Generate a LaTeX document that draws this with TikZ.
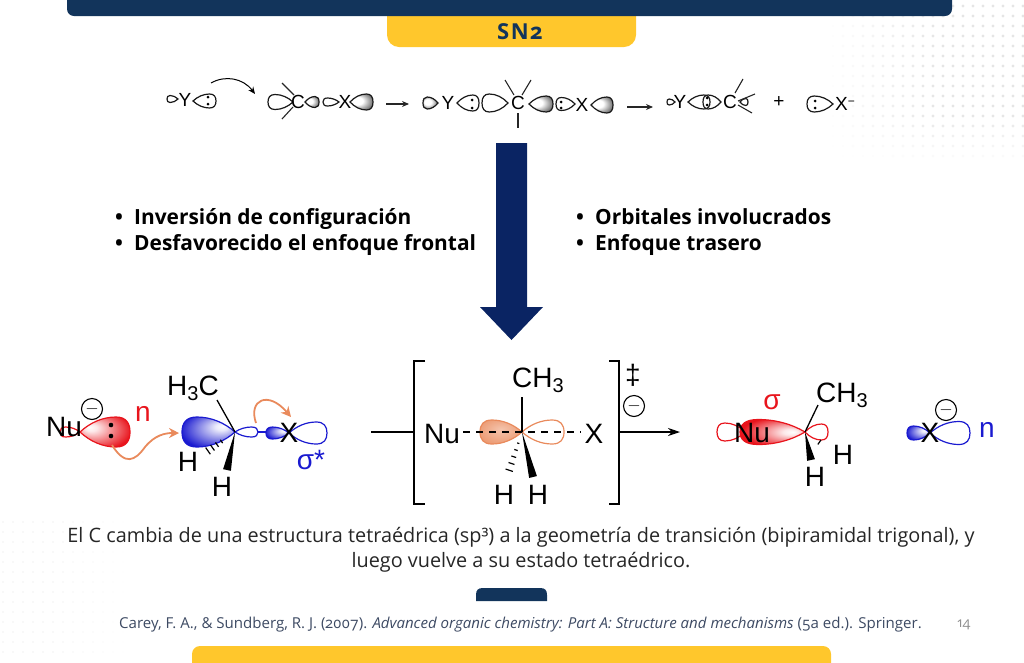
\documentclass[tikz,border=0pt]{standalone}
\usepackage{fontspec}
\setmainfont{Open Sans}[Numbers=OldStyle]
\newfontfamily\molfont{Liberation Sans}
\usetikzlibrary{arrows.meta, calc}

\definecolor{navybar}{HTML}{12345B}
\definecolor{navyarrow}{HTML}{0A2463}
\definecolor{yellowbar}{HTML}{FFC72C}
\definecolor{orbred}{HTML}{E8141C}
\definecolor{orbblue}{HTML}{1A1AD0}
\definecolor{orborange}{HTML}{E98A5C}
\definecolor{citegray}{HTML}{3D4A63}

\pgfdeclareradialshading{lobered}{\pgfpoint{-16bp}{8bp}}{color(0bp)=(white); color(6bp)=(white!90!orbred); color(32bp)=(orbred); color(50bp)=(orbred)}
\pgfdeclareradialshading{loberedb}{\pgfpoint{16bp}{0bp}}{color(0bp)=(white); color(6bp)=(white!90!orbred); color(30bp)=(orbred); color(50bp)=(orbred)}
\pgfdeclareradialshading{lobeblue}{\pgfpoint{14bp}{10bp}}{color(0bp)=(white); color(6bp)=(white!90!orbblue); color(32bp)=(orbblue); color(50bp)=(orbblue)}
\pgfdeclareradialshading{lobeorange}{\pgfpoint{0bp}{6bp}}{color(0bp)=(orborange!50); color(40bp)=(orborange); color(50bp)=(orborange)}
\pgfdeclareradialshading{lobegray}{\pgfpoint{-12bp}{5bp}}{color(0bp)=(white); color(12bp)=(white); color(28bp)=(black!50); color(42bp)=(black); color(50bp)=(black)}

\tikzset{
  toplabel/.style={font=\molfont\fontsize{19}{19}\selectfont, inner sep=0pt},
  mollabel/.style={font=\molfont\fontsize{28}{28}\selectfont, inner sep=0pt},
  bond/.style={line width=1.1pt, black!85},
  molbond/.style={line width=1.3pt},
  toplobe/.style={line width=1.2pt, black!90},
  charge/.style={circle, draw, line width=1.1pt, inner sep=0pt, minimum size=21pt, font=\fontsize{18}{18}\selectfont},
  curved/.style={line width=1.8pt, orborange, -{Stealth[length=10pt,width=10pt]}},
}

% tip, signed length, half width, options
\newcommand{\lobe}[4]{
  \draw[shift={(#1)}, xscale=#2, yscale=#3, #4]
    (0,0) .. controls (.2,.62) and (.45,1) .. (.72,1)
    .. controls (.92,1) and (1,.6) .. (1,0)
    .. controls (1,-.6) and (.92,-1) .. (.72,-1)
    .. controls (.45,-1) and (.2,-.62) .. (0,0) -- cycle;
}
\newcommand{\wedgebond}[2]{
  \fill (#1) -- ($(#2)!4pt!90:(#1)$) -- ($(#2)!4pt!-90:(#1)$) -- cycle;
}
\newcommand{\hashbond}[3]{
  \foreach \t [evaluate=\t as \w using 4.5*\t] in {#3}
    \draw[line width=1.2pt] ($(#1)!\t!(#2)!\w pt!90:(#2)$) -- ($(#1)!\t!(#2)!\w pt!-90:(#2)$);
}
\newcommand{\twodots}[4][1.5pt]{
  \fill (#2,#3) circle[radius=#1] (#2,#4) circle[radius=#1];
}
\newcommand{\subn}[1]{\raisebox{-5pt}{\fontsize{20}{20}\selectfont #1}}
\newcommand{\bul}{\hbox to 19pt{\textbullet\hfil}}

\begin{document}
\begin{tikzpicture}[x=1pt, y=-1pt]
  \useasboundingbox (0,0) rectangle (1024,662);

  % dots of the background
  \foreach \x in {823,833,...,1023}
    \foreach \y in {6,16,...,156}
      {\pgfmathsetmacro{\v}{max(0,10*min(1,(\x-825)/110)*min(1,(165-\y)/50))}
       \fill[black!\v] (\x,\y) circle[radius=1.6pt];}
  \foreach \x in {3,13,...,133}
    \foreach \y in {522,532,...,652}
      {\pgfmathsetmacro{\v}{max(0,4*min(1,(135-\x)/90))}
       \fill[black!\v] (\x,\y) circle[radius=1.2pt];}

  % bars
  \fill[yellowbar, rounded corners=12pt] (387,-20) rectangle (636,47);
  \fill[navybar, rounded corners=7pt] (67,-20) rectangle (952,16);
  \node[font=\bfseries\fontsize{22}{22}\selectfont, navybar] (title) at (520,31.5) {S\kern1.5pt N\kern1.5pt 2};
  \fill[navybar] (476,601) -- (476,595) .. controls (476,590) and (478,588) .. (483,588) -- (540,588) .. controls (545,588) and (547,590) .. (547,595) -- (547,601) -- cycle;
  \fill[yellowbar, rounded corners=8pt] (192,680) rectangle (831,646);

  % top row
  \lobe{178,99}{-11}{3.5}{toplobe}
  \node[toplabel] (ya) at (185,100) {Y};
  \lobe{193,101}{23}{7}{toplobe}
  \twodots{208}{97}{104}
  \coordinate (sa) at (211,83);
  \coordinate (ea) at (255,94);
  \draw[line width=1pt, -{Stealth[length=7pt,width=6pt]}] (sa) .. controls (225,75) and (243,78) .. (ea);

  \coordinate (ca) at (298,102);
  \lobe{293,102}{-25}{7.5}{toplobe}
  \lobe{305,102}{14}{5.5}{toplobe, shading=lobegray}
  \lobe{339,102}{-16}{4}{toplobe}
  \lobe{350,102}{23}{8}{toplobe, shading=lobegray}
  \node[toplabel] (ct) at (ca) {C};
  \node[toplabel] (xa) at (345,102) {X};
  \draw[bond] (282,83) -- (294,95);
  \draw[bond] (293,107) -- (282,119);

  \coordinate (ab) at (386,104);
  \coordinate (bb) at (409,104);
  \draw[bond, -{Stealth[length=7pt,width=6pt]}] (ab) -- (bb);

  \lobe{438,103}{-15}{6}{toplobe, shading=lobegray}
  \node[toplabel] (yb) at (448,103) {Y};
  \lobe{457,103}{22}{8}{toplobe}
  \twodots{472}{100}{108}
  \lobe{508,103}{-26}{9}{toplobe}
  \node[toplabel] (cb) at (518,103) {C};
  \draw[bond] (505,80) -- (514,95);
  \draw[bond] (531,80) -- (522,95);
  \draw[bond] (518,113) -- (518,128);
  \lobe{529,104}{24}{8}{toplobe, shading=lobegray}
  \lobe{575,104}{-19}{6.5}{toplobe}
  \twodots{561}{102}{108}
  \node[toplabel] (xb) at (582,105) {X};
  \lobe{591,105}{22}{8}{toplobe, shading=lobegray}

  \coordinate (ac) at (627,107);
  \coordinate (bc) at (653,107);
  \draw[bond, -{Stealth[length=7pt,width=6pt]}] (ac) -- (bc);

  \lobe{675,102}{-8}{3}{toplobe}
  \node[toplabel] (yc) at (680,102) {Y};
  \lobe{688,102}{22}{7}{toplobe}
  \lobe{721,102}{-18}{7}{toplobe}
  \twodots{707}{98}{105}
  \node[toplabel] (cc) at (730,102) {C};
  \lobe{740,102}{8}{3.5}{toplobe}
  \draw[bond] (743,79) -- (735,93);
  \draw[bond] (755,94) -- (738,101);
  \draw[bond] (752,113) -- (738,105);
  \node[toplabel] (plus) at (779,102) {+};
  \lobe{833,104}{-26}{8}{toplobe}
  \twodots{815}{101}{108}
  \node[toplabel, anchor=west] (xc) at (835,104) {X\raisebox{5pt}{\fontsize{12}{12}\selectfont −}};

  % big arrow
  \fill[navyarrow] (496,143) -- (527,143) -- (527,307) -- (543,307) -- (511.5,340) -- (480,307) -- (496,307) -- cycle;

  % bullets
  \node[anchor=west, align=left, inner sep=0pt, font=\bfseries\fontsize{20.9}{26}\selectfont, text=black] (bulleta) at (115,232)
    {\bul Inversión de configuración\\ \bul Desfavorecido el enfoque frontal};
  \node[anchor=west, align=left, inner sep=0pt, font=\bfseries\fontsize{20.9}{26}\selectfont, text=black] (bulletb) at (576,232)
    {\bul Orbitales involucrados\\ \bul Enfoque trasero};

  % left molecule
  \coordinate (cl) at (235,432);
  \lobe{80,432}{-20}{5}{line width=1.2pt, orbred}
  \lobe{80,432}{50}{15}{line width=1.2pt, orbred, shading=lobered}
  \twodots[2.3pt]{111}{425}{436}
  \node[mollabel] (nua) at (64,427) {Nu};
  \node[charge] (chargea) at (92,409) {$-$};
  \node[mollabel, text=orbred] (na) at (143,414) {n};
  \lobe{235,432}{-53}{15}{line width=1.2pt, orbblue, shading=lobeblue}
  \lobe{235,432}{23}{5}{line width=1.2pt, orbblue}
  \lobe{289,433}{-23}{6}{line width=1.2pt, orbblue, shading=lobeblue}
  \lobe{289,433}{38}{11}{line width=1.2pt, orbblue}
  \draw[molbond, orbblue] (258,432) -- (266,432);
  \node[mollabel] (hca) at (193,388) {H\subn{3}C};
  \node[mollabel] (hb) at (188,462) {H};
  \node[mollabel] (hd) at (222,487) {H};
  \node[mollabel] (xd) at (289,433) {X};
  \node[mollabel, text=orbblue] (sigs) at (311,460) {σ*};
  \coordinate (hcb) at (217,400);
  \coordinate (wl) at (227,470);
  \coordinate (hl) at (205,453);
  \draw[molbond] (hcb) -- (cl);
  \wedgebond{cl}{wl}
  \hashbond{cl}{hl}{.45,.6,.75,.9}
  \coordinate (sb) at (112,445);
  \coordinate (eb) at (179,433);
  \draw[curved] (sb) .. controls (125,466) and (135,461) .. (145,447) .. controls (155,435) and (165,433) .. (eb);
  \coordinate (sc) at (256,423);
  \coordinate (ec) at (291,417);
  \draw[curved] (sc) .. controls (248,400) and (268,390) .. (ec);

  % transition state
  \coordinate (ct) at (522,432);
  \coordinate (ra) at (371,432);
  \coordinate (ra2) at (414,432);
  \draw[molbond] (ra) -- (ra2);
  \draw[line width=1.5pt] (425,361) -- (414,361) -- (414,504) -- (425,504);
  \draw[line width=1.5pt] (609,361) -- (619,361) -- (619,504) -- (609,504);
  \lobe{522,432}{-42}{12}{line width=1.2pt, orborange, shading=lobeorange}
  \lobe{522,432}{42}{12}{line width=1.2pt, orborange}
  \coordinate (dl) at (463,432);
  \coordinate (dr) at (581,432);
  \draw[line width=1.2pt, dash pattern=on 7pt off 6pt] (dl) -- (dr);
  \node[mollabel] (nub) at (442,434) {Nu};
  \node[mollabel] (xb2) at (594,434) {X};
  \node[mollabel] (cht) at (538,380) {CH\subn{3}};
  \node[mollabel] (hl2) at (504,495) {H};
  \node[mollabel] (hr2) at (538,495) {H};
  \coordinate (tup) at (522,397);
  \coordinate (wt) at (533,477);
  \coordinate (ht) at (507,477);
  \draw[molbond] (tup) -- (ct);
  \wedgebond{ct}{wt}
  \hashbond{ct}{ht}{.25,.4,.55,.7,.85,1}
  \node[mollabel] (dag) at (633,375) {‡};
  \node[charge] (chargeb) at (634,406) {$-$};
  \coordinate (rb) at (619,432);
  \coordinate (rb2) at (680,432);
  \draw[molbond, -{Stealth[length=12pt,width=8pt]}] (rb) -- (rb2);

  % right molecule
  \coordinate (cr) at (805,432);
  \lobe{745,432}{-28}{9}{line width=1.2pt, orbred}
  \lobe{805,432}{-65}{12.5}{line width=1.2pt, orbred, shading=loberedb}
  \lobe{805,432}{23}{8}{line width=1.2pt, orbred}
  \node[mollabel] (nuc) at (752,433) {Nu};
  \node[mollabel, text=orbred] (sig) at (772,402) {σ};
  \node[mollabel] (chr) at (842,395) {CH\subn{3}};
  \node[mollabel] (hf) at (843,455) {H};
  \node[mollabel] (hg) at (815,477) {H};
  \coordinate (hcr) at (818,405);
  \coordinate (wr) at (811,460);
  \coordinate (hr) at (829,449);
  \draw[molbond] (hcr) -- (cr);
  \wedgebond{cr}{wr}
  \hashbond{cr}{hr}{.6,1}

  \lobe{930,433}{-23}{7}{line width=1.2pt, orbblue, shading=lobeblue}
  \lobe{930,433}{40}{11.5}{line width=1.2pt, orbblue}
  \node[mollabel] (xe) at (930,433) {X};
  \node[charge] (chargec) at (946,410) {$-$};
  \node[mollabel, text=orbblue] (ne) at (987,430) {n};

  % texts
  \node[align=center, font=\fontsize{19.85}{25}\selectfont, text=black!85] (body) at (521,550)
    {El C cambia de una estructura tetraédrica (sp³) a la geometría de transición (bipiramidal trigonal), y\\ luego vuelve a su estado tetraédrico.};
  \node[anchor=west, inner sep=0pt, font=\fontsize{15.05}{15}\selectfont, text=citegray] (cite) at (119,625)
    {Carey, F. A., \& Sundberg, R. J. (2007). \textit{Advanced organic chemistry: Part A: Structure and mechanisms} (5a ed.). Springer.};
  \node[font=\fontsize{14}{14}\selectfont, text=black!45] (page) at (964,625) {14};
\end{tikzpicture}
\end{document}
